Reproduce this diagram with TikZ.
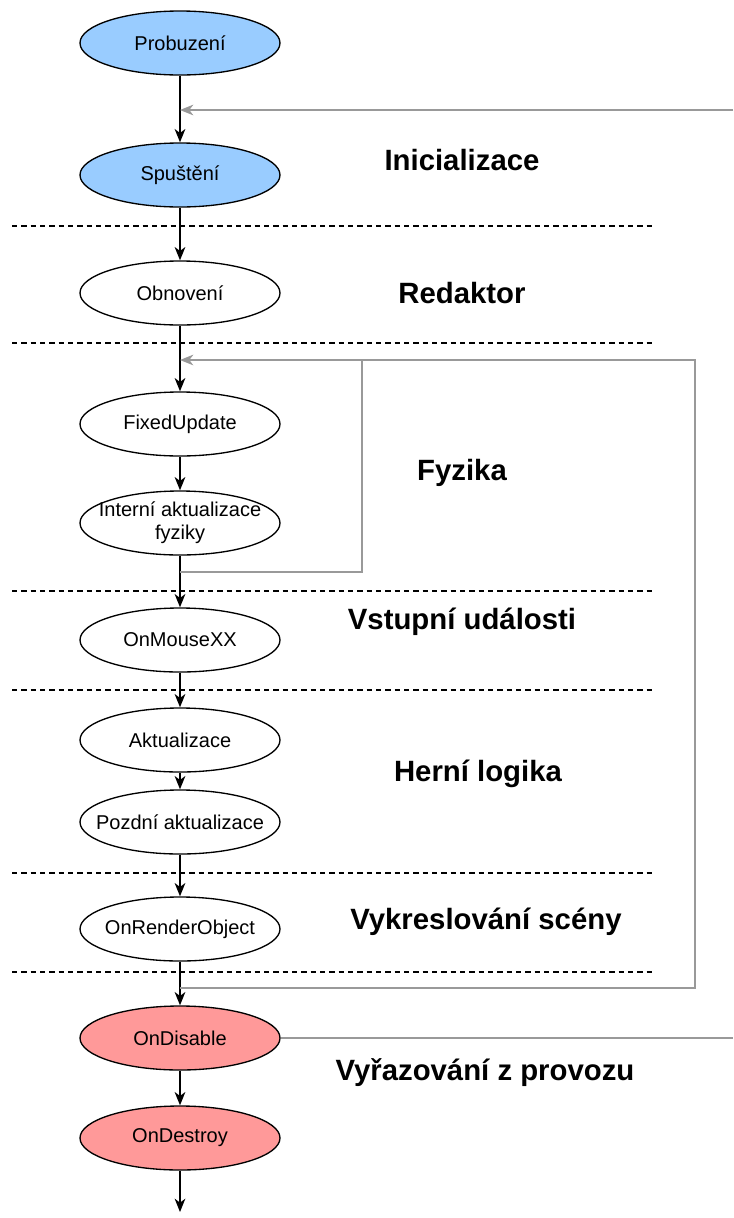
\documentclass[tikz,border=0pt]{standalone}
\usepackage{fontspec}
\setmainfont{Liberation Sans}
\usetikzlibrary{shapes.geometric,arrows.meta}
\definecolor{blueF}{HTML}{99CCFF}
\definecolor{pinkF}{HTML}{FF9999}
\definecolor{loopG}{HTML}{999999}
\tikzset{
  stage/.style={ellipse, draw=black, line width=1pt, minimum width=150pt, minimum height=48pt, inner xsep=-12pt, inner ysep=0pt, align=center, font=\fontsize{15}{17}\selectfont},
  flow/.style={line width=1.3pt, -{Stealth[length=10pt,width=8pt,inset=3pt]}},
  back/.style={loopG, line width=1.1pt, -{Stealth[length=10pt,width=8pt,inset=3pt]}},
  backline/.style={loopG, line width=1.1pt},
  sep/.style={line width=0.8pt, dash pattern=on 4pt off 3pt},
  phase/.style={font=\fontsize{22}{26}\selectfont\bfseries, anchor=center}
}
\begin{document}
\begin{tikzpicture}[x=0.75pt,y=-0.75pt]
\useasboundingbox (0,0) rectangle (733,1218);
% separators
\foreach \yy in {226,343,591,690,873,972}
  \draw[sep] (12,\yy) -- (655,\yy);
% nodes
\node[stage, fill=blueF] (prob) at (180,43) {Probuzení};
\node[stage, fill=blueF] (spus) at (180,175) {Spuštění};
\node[stage, fill=white] (obn) at (180,293) {Obnovení};
\node[stage, fill=white] (fix) at (180,424) {FixedUpdate};
\node[stage, fill=white] (int) at (180,523) {Interní aktualizace\\fyziky};
\node[stage, fill=white] (mouse) at (180,640) {OnMouseXX};
\node[stage, fill=white] (akt) at (180,740) {Aktualizace};
\node[stage, fill=white] (poz) at (180,822) {Pozdní aktualizace};
\node[stage, fill=white] (rend) at (180,929) {OnRenderObject};
\node[stage, fill=pinkF] (dis) at (180,1038) {OnDisable};
\node[stage, fill=pinkF] (des) at (180,1138) {OnDestroy};
% phase labels
\node[phase] (l1) at (462,160) {Inicializace};
\node[phase] (l2) at (462,293) {Redaktor};
\node[phase] (l3) at (462,473) {Fyzika};
\node[phase] (l4) at (462,622) {Vstupní události};
\node[phase] (l5) at (478,774) {Herní logika};
\node[phase] (l6) at (486,922) {Vykreslování scény};
\node[phase] (l7) at (485,1073) {Vyřazování z provozu};
% coordinates
\coordinate (initIn) at (180,110);
\coordinate (extIn) at (733,110);
\coordinate (loopIn) at (180,360);
\coordinate (physOut) at (180,572);
\coordinate (frameOut) at (180,988);
\coordinate (extOut) at (733,1038);
\coordinate (endPt) at (180,1212);
% flow
\draw[flow] (prob) -- (spus);
\draw[flow] (spus) -- (obn);
\draw[flow] (obn) -- (fix);
\draw[flow] (fix) -- (int);
\draw[flow] (int) -- (mouse);
\draw[flow] (mouse) -- (akt);
\draw[flow] (akt) -- (poz);
\draw[flow] (poz) -- (rend);
\draw[flow] (rend) -- (dis);
\draw[flow] (dis) -- (des);
\draw[flow] (des) -- (endPt);
% loops
\draw[back] (extIn) -- (initIn);
\draw[backline] (physOut) -- (362,572) -- (362,360);
\draw[back] (frameOut) -- (695,988) -- (695,360) -- (loopIn);
\draw[backline] (dis.east) -- (extOut);
\end{tikzpicture}
\end{document}
